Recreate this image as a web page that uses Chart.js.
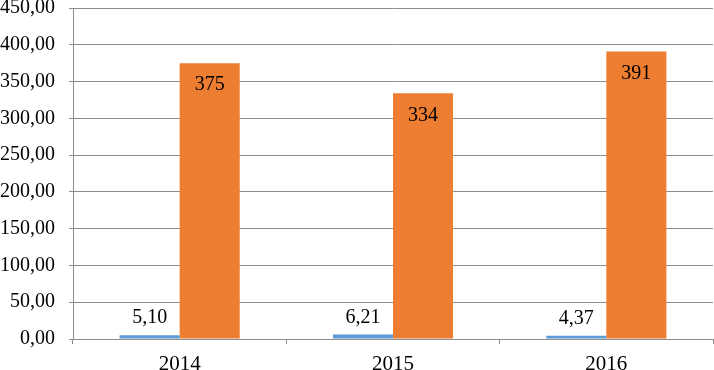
<!DOCTYPE html>
<html><head><meta charset="utf-8">
<script src="https://cdn.jsdelivr.net/npm/chart.js@4"></script>
<style>html,body{margin:0;padding:0;background:#fff}#wrap{width:714px;height:370px}</style>
</head><body><div id="wrap"><canvas id="c"></canvas></div>
<script>
const categories = ['2014', '2015', '2016'];
const seriesSmall = [5.10, 6.21, 4.37];
const seriesLarge = [375, 334, 391];
const yTicks = [0, 50, 100, 150, 200, 250, 300, 350, 400, 450];

const FONT = '"Liberation Serif", "Times New Roman", serif';
const fmt2 = v => v.toFixed(2).replace('.', ',');

const labelPlugin = {
  id: 'labels',
  afterDatasetsDraw(chart) {
    const ctx = chart.ctx;
    ctx.save();
    ctx.font = '20px ' + FONT;
    ctx.fillStyle = '#000';
    ctx.textAlign = 'center';
    ctx.textBaseline = 'middle';
    chart.data.datasets.forEach((ds, di) => {
      const meta = chart.getDatasetMeta(di);
      meta.data.forEach((bar, i) => {
        const v = ds.data[i];
        if (di === 0) {
          ctx.fillText(fmt2(v), bar.x, bar.y - 17);
        } else {
          ctx.fillText(String(Math.round(v)), bar.x, bar.y + 22);
        }
      });
    });
    ctx.restore();
  }
};

new Chart(document.getElementById('c'), {
  type: 'bar',
  data: {
    labels: categories,
    datasets: [
      { data: seriesSmall, backgroundColor: '#5B9BD5', barPercentage: 1, categoryPercentage: 0.563 },
      { data: seriesLarge, backgroundColor: '#ED7D31', barPercentage: 1, categoryPercentage: 0.563 }
    ]
  },
  options: {
    responsive: true,
    maintainAspectRatio: false,
    animation: false,
    events: [],
    layout: { padding: { top: 8, right: 1, left: 0, bottom: 0 } },
    plugins: { legend: { display: false }, tooltip: { enabled: false } },
    scales: {
      x: {
        grid: { display: true, drawOnChartArea: false, offset: true, color: '#8c8c8c', tickLength: 5 },
        border: { color: '#8c8c8c' },
        ticks: { color: '#000', font: { family: FONT, size: 21 }, padding: 8 },
        afterFit(s) { s.height = 31; s.paddingLeft = 0; s.paddingRight = 0; }
      },
      y: {
        min: 0, max: 450,
        afterBuildTicks(s) { s.ticks = yTicks.map(v => ({ value: v })); },
        grid: { color: '#8c8c8c', tickLength: 4 },
        border: { color: '#8c8c8c' },
        ticks: { color: '#000', font: { family: FONT, size: 20 }, padding: 14, callback: v => fmt2(v) },
        afterFit(s) { s.width = 73; s.paddingTop = 0; s.paddingBottom = 0; }
      }
    }
  },
  plugins: [labelPlugin]
});
</script></body></html>
